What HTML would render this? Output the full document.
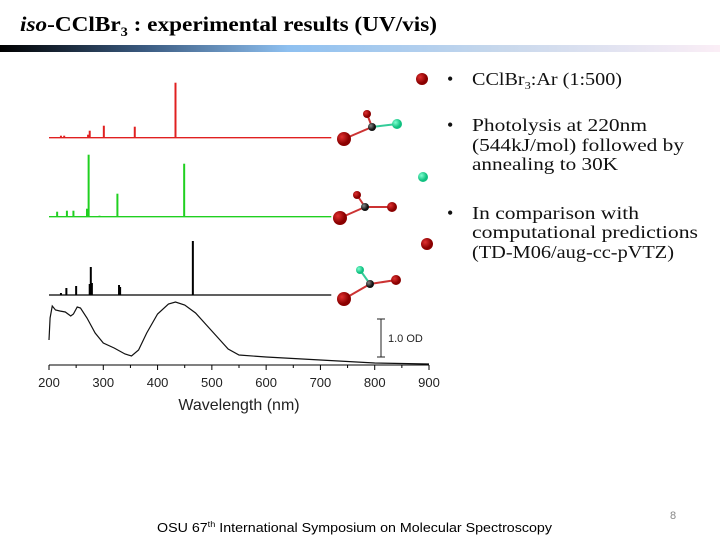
<!DOCTYPE html>
<html><head><meta charset="utf-8"><style>
body{margin:0;width:720px;height:540px;background:#fff;overflow:hidden;position:relative;font-family:"Liberation Serif",serif}
svg{position:absolute;left:0;top:0}
</style></head><body>
<svg width="720" height="540">
<defs>
<linearGradient id="bar" x1="0" x2="1"><stop offset="0" stop-color="#000"/><stop offset="0.2" stop-color="#3a5a80"/><stop offset="0.4" stop-color="#8ec0f0"/><stop offset="0.7" stop-color="#c8d8ec"/><stop offset="1" stop-color="#fbeef6"/></linearGradient>
<radialGradient id="rb" cx="0.35" cy="0.35"><stop offset="0" stop-color="#e03030"/><stop offset="1" stop-color="#8a0000"/></radialGradient>
<radialGradient id="gb" cx="0.35" cy="0.35"><stop offset="0" stop-color="#80ffd0"/><stop offset="1" stop-color="#10c080"/></radialGradient>
<radialGradient id="kb" cx="0.35" cy="0.35"><stop offset="0" stop-color="#888"/><stop offset="1" stop-color="#111"/></radialGradient>
</defs>
<text x="20" y="31" font-size="21" font-weight="bold" font-family="Liberation Serif,serif" textLength="417" lengthAdjust="spacingAndGlyphs"><tspan font-style="italic">iso</tspan>-CClBr<tspan font-size="13" dy="5">3</tspan><tspan dy="-5"> : experimental results (UV/vis)</tspan></text>
<rect x="0" y="45" width="720" height="7" fill="url(#bar)"/>
<g id="chart"></g>
<g id="mols"></g>
<g font-size="18" fill="#111">
<text x="447" y="85">•</text><text x="472" y="85" textLength="150" lengthAdjust="spacingAndGlyphs">CClBr<tspan font-size="11" dy="4">3</tspan><tspan dy="-4">:Ar (1:500)</tspan></text>
<text x="447" y="131">•</text><text x="472" y="131" textLength="175" lengthAdjust="spacingAndGlyphs">Photolysis at 220nm</text><text x="472" y="151" textLength="212" lengthAdjust="spacingAndGlyphs">(544kJ/mol) followed by</text><text x="472" y="170" textLength="146" lengthAdjust="spacingAndGlyphs">annealing to 30K</text>
<text x="447" y="219">•</text><text x="472" y="219" textLength="167" lengthAdjust="spacingAndGlyphs">In comparison with</text><text x="472" y="238" textLength="226" lengthAdjust="spacingAndGlyphs">computational predictions</text><text x="472" y="258" textLength="202" lengthAdjust="spacingAndGlyphs">(TD-M06/aug-cc-pVTZ)</text>
</g>
<text x="157" y="532" font-size="12.5" font-family="Liberation Sans,sans-serif" textLength="395" lengthAdjust="spacingAndGlyphs">OSU 67<tspan font-size="8" dy="-5">th</tspan><tspan dy="5"> International Symposium on Molecular Spectroscopy</tspan></text>
<text x="670" y="519" font-size="11" fill="#888" font-family="Liberation Sans,sans-serif">8</text>
</svg>
<script>
const ticks=[200,300,400,500,600,700,800,900];
const redNm=[222,228,272,275,301,358,433];
const redH=[2,2,3,7,12,11,55];
const greenNm=[215,233,245,270,273,293,326,449];
const greenH=[5,6,6,8,62,1,23,53];
const blackNm=[222,232,250,275,277,279,329,331,465];
const blackH=[2,7,9,11,28,12,10,8,54];
const expNm=[200,202,206,212,220,230,240,245,252,258,270,285,300,320,340,352,365,380,400,420,433,450,470,490,510,530,550,600,700,800,900];
const expA=[24,46,58,54,53,52,48,50,57,56,46,31,21,16,10,8,14,31,50,60,62,59,51,39,27,15,9,7,4,1,0];
const NS="http://www.w3.org/2000/svg";
const X=nm=>49+(nm-200)*380/700;
const chart=document.getElementById('chart');
function mk(t,a,p){const e=document.createElementNS(NS,t);for(const k in a)e.setAttribute(k,a[k]);(p||chart).appendChild(e);return e;}
function sticks(nm,h,base,col,name){
  const b=mk('line',{x1:X(200),x2:X(720),y1:base,y2:base,stroke:col,'stroke-width':1.3});
  
  
  nm.forEach((v,i)=>{const l=mk('line',{x1:X(v),x2:X(v),y1:base,y2:base-h[i],stroke:col,'stroke-width':2});
  
  });
}
sticks(redNm,redH,137.7,'#e02020','red-spectrum');
sticks(greenNm,greenH,216.7,'#20d020','green-spectrum');
sticks(blackNm,blackH,295,'#000','black-spectrum');
const Y=a=>364-a;
const p=mk('polyline',{points:expNm.map((v,i)=>X(v)+','+Y(expA[i])).join(' '),fill:'none',stroke:'#111','stroke-width':1.2});


const ax=mk('line',{x1:X(200),x2:X(900),y1:365,y2:365,stroke:'#000','stroke-width':1});


for(let v=200;v<=900;v+=50){const t=mk('line',{x1:X(v),x2:X(v),y1:365,y2:v%100?368:370,stroke:'#000'});

}
ticks.forEach(v=>{const t=mk('text',{x:X(v),y:387,'text-anchor':'middle','font-size':13,'font-family':'Liberation Sans,sans-serif',fill:'#222'});t.textContent=v;

});
const xt=mk('text',{x:239,y:410,'text-anchor':'middle','font-size':16,'font-family':'Liberation Sans,sans-serif',fill:'#222'});xt.textContent='Wavelength (nm)';


const sb=mk('path',{d:'M377 319H385M381 319V357M377 357H385',stroke:'#222',fill:'none'});


const st=mk('text',{x:388,y:342,'font-size':11,'font-family':'Liberation Sans,sans-serif',fill:'#222'});st.textContent='1.0 OD';


const mols=document.getElementById('mols');
function bond(a,b,c){mk('line',{x1:a[0],y1:a[1],x2:b[0],y2:b[1],stroke:c||'#333','stroke-width':2},mols);}
function ball(c,r,f){mk('circle',{cx:c[0],cy:c[1],r:r,fill:f},mols);}
const R='url(#rb)',G='url(#gb)',K='url(#kb)';
bond([344,139],[372,127],'#c33');bond([367,114],[372,127],'#c33');bond([372,127],[397,124],'#3c9');
ball([344,139],7,R);ball([367,114],4,R);ball([372,127],4,K);ball([397,124],5,G);
bond([340,218],[365,207],'#c33');bond([357,195],[365,207],'#c33');bond([365,207],[392,207],'#c33');
ball([340,218],7,R);ball([357,195],4,R);ball([365,207],4,K);ball([392,207],5,R);
bond([360,270],[370,284],'#3c9');bond([370,284],[396,280],'#c33');bond([370,284],[344,299],'#c33');
ball([360,270],4,G);ball([370,284],4,K);ball([396,280],5,R);ball([344,299],7,R);
ball([422,79],6,R);ball([423,177],5,G);ball([427,244],6,R);
</script>
</body></html>
